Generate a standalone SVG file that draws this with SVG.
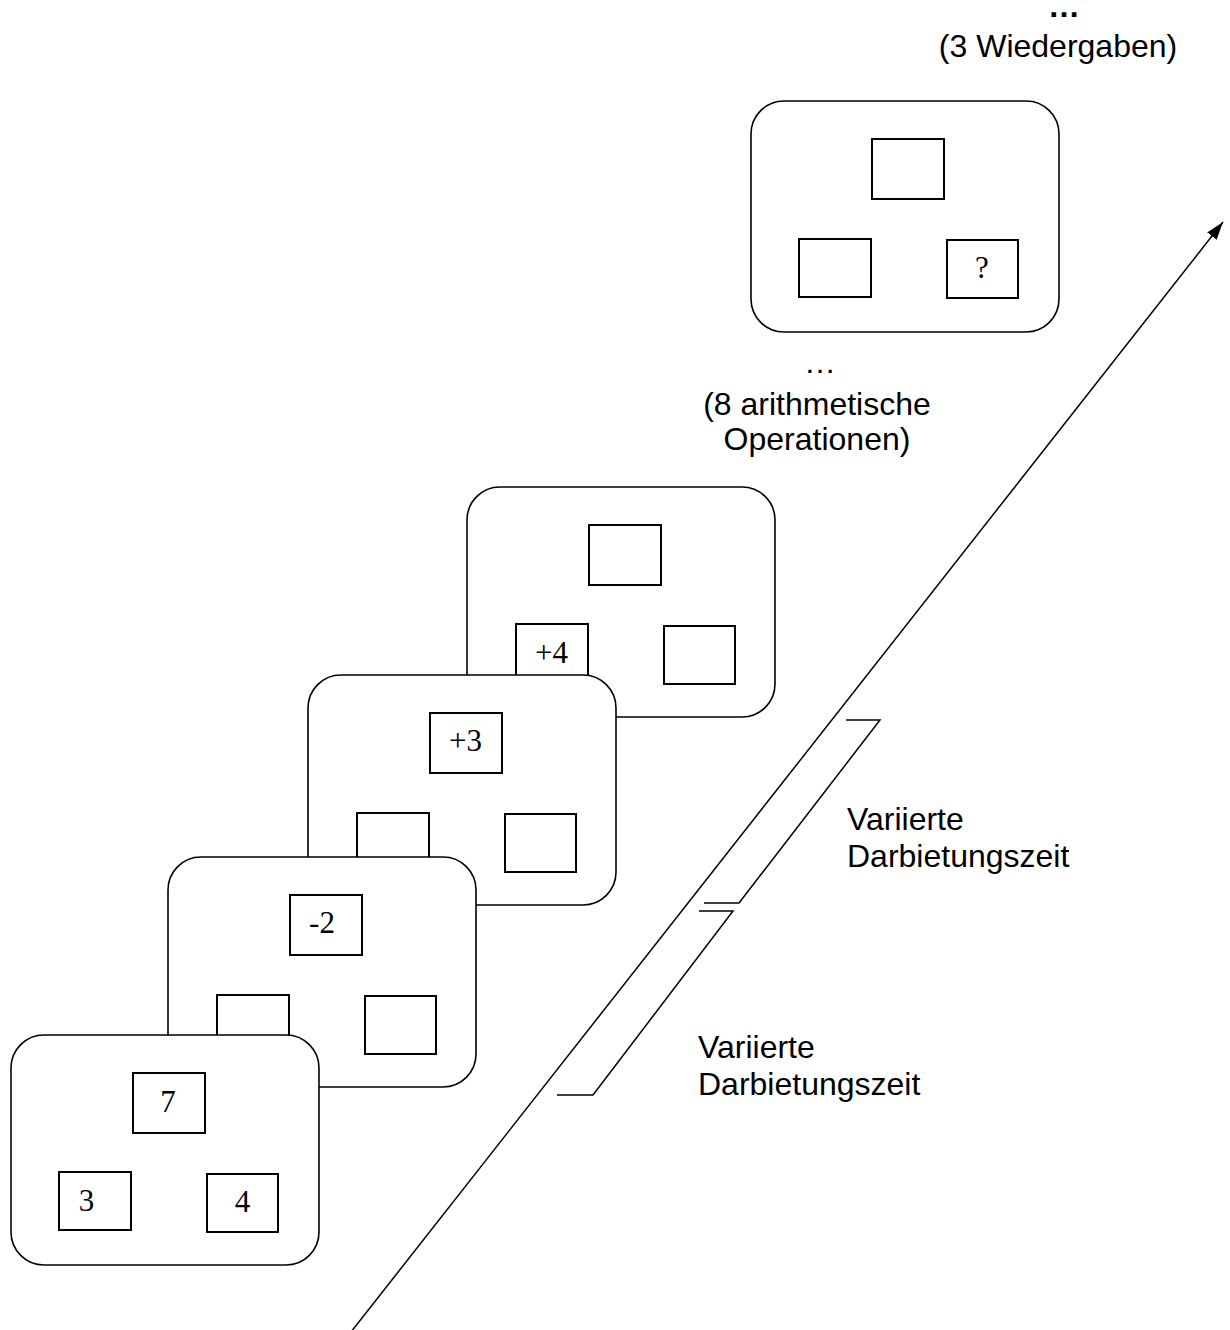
<svg xmlns="http://www.w3.org/2000/svg" width="1230" height="1330" viewBox="0 0 1230 1330">
<style>
.card{fill:#fff;stroke:#000;stroke-width:1.6}
.box{fill:#fff;stroke:#000;stroke-width:2}
.num{font-family:"Liberation Serif","Times New Roman",serif;font-size:31px;fill:#000;text-anchor:middle}
.lbl{font-family:"Liberation Sans",Arial,sans-serif;font-size:32px;fill:#000}
.ln{fill:none;stroke:#000;stroke-width:1.5}
</style>
<defs>
<marker id="ah" viewBox="0 0 18 12" refX="18" refY="6" markerWidth="18" markerHeight="12" markerUnits="userSpaceOnUse" orient="auto">
<path d="M0,0 L18,6 L0,12 z" fill="#000"/>
</marker>
</defs>
<rect width="1230" height="1330" fill="#fff"/>
<g id="connectors">
<line class="ln" x1="351" y1="1332" x2="1223" y2="222" marker-end="url(#ah)"/>
<polyline class="ln" points="846,720 880,720 739,903 704,903"/>
<polyline class="ln" points="699,911 733,911 593,1095 557,1095"/>
</g>
<g id="card5">
<rect class="card" x="751" y="101" width="308" height="231" rx="33"/>
<rect class="box" x="872" y="139" width="72" height="60"/>
<rect class="box" x="799" y="239" width="72" height="58"/>
<rect class="box" x="947" y="240" width="71" height="58"/>
<text class="num" x="982" y="278">?</text>
</g>
<g id="card4">
<rect class="card" x="467" y="487" width="308" height="230" rx="33"/>
<rect class="box" x="589" y="525" width="72" height="60"/>
<rect class="box" x="516" y="624" width="72" height="58"/>
<rect class="box" x="664" y="626" width="71" height="58"/>
<text class="num" x="551.5" y="663">+4</text>
</g>
<g id="card3">
<rect class="card" x="308" y="675" width="308" height="230" rx="33"/>
<rect class="box" x="430" y="713" width="72" height="60"/>
<rect class="box" x="357" y="813" width="72" height="58"/>
<rect class="box" x="505" y="814" width="71" height="58"/>
<text class="num" x="465.5" y="751">+3</text>
</g>
<g id="card2">
<rect class="card" x="168" y="857" width="308" height="230" rx="33"/>
<rect class="box" x="290" y="895" width="72" height="60"/>
<rect class="box" x="217" y="995" width="72" height="58"/>
<rect class="box" x="365" y="996" width="71" height="58"/>
<text class="num" x="322" y="933">-2</text>
</g>
<g id="card1">
<rect class="card" x="11" y="1035" width="308" height="230" rx="33"/>
<rect class="box" x="133" y="1073" width="72" height="60"/>
<rect class="box" x="59" y="1172" width="72" height="58"/>
<rect class="box" x="207" y="1174" width="71" height="58"/>
<text class="num" x="168" y="1112">7</text>
<text class="num" x="86.5" y="1211">3</text>
<text class="num" x="242.5" y="1212">4</text>
</g>
<g id="labels">
<text class="lbl" x="1064" y="17" text-anchor="middle" font-weight="bold" font-size="34">…</text>
<text class="lbl" x="1058" y="57" text-anchor="middle">(3 Wiedergaben)</text>
<text class="lbl" x="820" y="373" text-anchor="middle">…</text>
<text class="lbl" x="817" y="415" text-anchor="middle">(8 arithmetische</text>
<text class="lbl" x="817" y="450" text-anchor="middle">Operationen)</text>
<text class="lbl" x="847" y="830">Variierte</text>
<text class="lbl" x="847" y="867">Darbietungszeit</text>
<text class="lbl" x="698" y="1058">Variierte</text>
<text class="lbl" x="698" y="1095">Darbietungszeit</text>
</g>
</svg>
